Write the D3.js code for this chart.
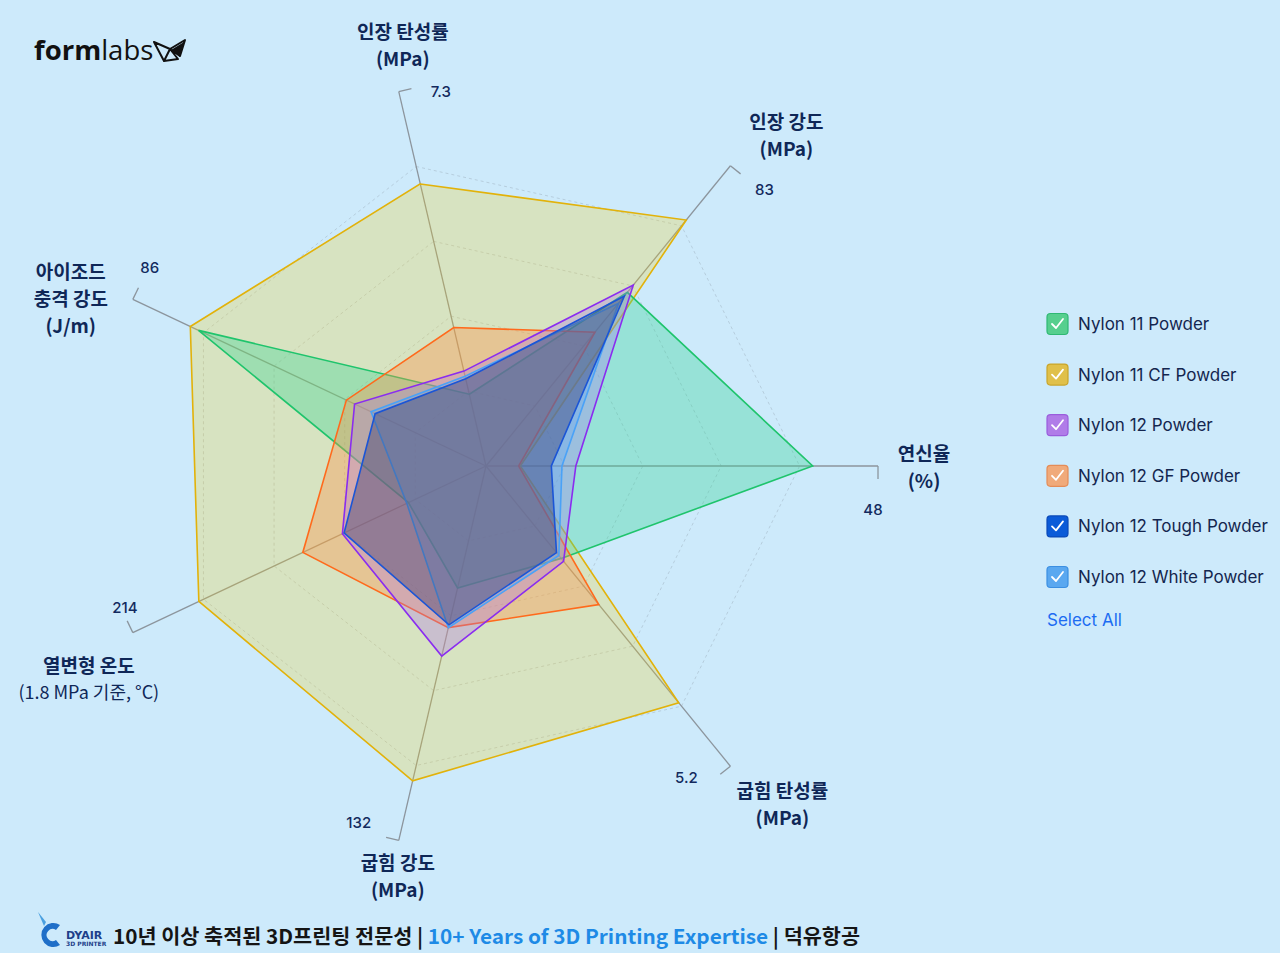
<!DOCTYPE html>
<html><head><meta charset="utf-8">
<script src="https://cdn.jsdelivr.net/npm/d3@7"></script>
<style>
html,body{margin:0;padding:0;background:#cdeafb;}
svg{display:block;}
</style></head><body>
<svg id="chart" width="1280" height="953"></svg>
<script>
// ---------- data ----------
const axisTitles = [
  ["인장 탄성률", "(MPa)"],
  ["인장 강도", "(MPa)"],
  ["연신율", "(%)"],
  ["굽힘 탄성률", "(MPa)"],
  ["굽힘 강도", "(MPa)"],
  ["열변형 온도", "(1.8 MPa 기준, °C)"],
  ["아이조드", "충격 강도", "(J/m)"]
];
const axisMax = [7.3, 83, 48, 5.2, 132, 214, 86];
const axisMaxLabels = ["7.3", "83", "48", "5.2", "132", "214", "86"];

const seriesNames = ["Nylon 11 Powder", "Nylon 11 CF Powder", "Nylon 12 Powder",
  "Nylon 12 GF Powder", "Nylon 12 Tough Powder", "Nylon 12 White Powder"];
const nylon11      = [1.4, 48, 40, 1.6, 43, 47, 70];
const nylon11CF    = [5.5, 68, 4.2, 4.1, 111, 174, 72];
const nylon12      = [1.85, 50, 11, 1.65, 67, 87, 32];
const nylon12GF    = [2.7, 37, 4, 2.4, 57, 111, 34];
const nylon12Tough = [1.7, 47, 8, 1.5, 56, 86, 27];
const nylon12White = [1.75, 45, 9.3, 1.55, 57, 48, 28];
const seriesValues = [nylon11, nylon11CF, nylon12, nylon12GF, nylon12Tough, nylon12White];

// ---------- styles ----------
const strokeColors = ["#1fc46c", "#e2b20a", "#8a2cf0", "#ff6a1c", "#1b55d6", "#4aa2f7"];
const fillColors   = ["rgba(52,211,150,0.35)", "rgba(248,208,20,0.25)", "rgba(170,110,240,0.30)",
                      "rgba(255,145,70,0.36)", "rgba(60,62,115,0.42)", "rgba(90,165,245,0.30)"];
const boxFill   = ["#56cf8e", "#e0c04a", "#b07ce8", "#f0aa7a", "#0b5bd8", "#5aa8f0"];
const boxStroke = ["#2fb873", "#c9a52a", "#9a5ddc", "#e48c57", "#0a49b8", "#3b8fe2"];
const drawOrder = [1, 0, 3, 2, 5, 4];
const tickLabelOffset = [[42, 0], [34, 24], [-5, 43], [-44, 11], [-40, -18], [-8, -25], [17, -32]];
const titleOffset = [[4, -48], [56, -32], [46, 0], [52, 37], [-1, 35], [-44, 45], [-62, -2]];

const svg = d3.select("#chart");
const W = 1280, H = 953;
svg.append("rect").attr("width", W).attr("height", H).attr("fill", "#cdeafb");

const cx = 486, cy = 466, rx = 392, ry = 384;
const n = axisMax.length;
const angle = i => (i - 2) * 2 * Math.PI / n + Math.PI / 2; // clockwise from up
const xS = d3.scaleLinear().domain([-1, 1]).range([cx - rx, cx + rx]);
const yS = d3.scaleLinear().domain([-1, 1]).range([cy + ry, cy - ry]);
const rScales = axisMax.map(m => d3.scaleLinear().domain([0, m]).range([0, 1]));
const pt = (i, t) => [xS(t * Math.sin(angle(i))), yS(t * Math.cos(angle(i)))];

const g = svg.append("g");

// grid rings
const ringLevels = [0.2, 0.4, 0.6, 0.8];
const lineClosed = d3.line().curve(d3.curveLinearClosed);
g.selectAll(".ring").data(ringLevels).join("path")
  .attr("d", t => lineClosed(d3.range(n).map(i => pt(i, t))))
  .attr("fill", "none").attr("stroke", "rgba(110,120,130,0.25)")
  .attr("stroke-width", 1).attr("stroke-dasharray", "3,3");

// axes
const axisColor = "#8c959d";
d3.range(n).forEach(i => {
  const [x1, y1] = pt(i, 0), [x2, y2] = pt(i, 1);
  g.append("line").attr("x1", x1).attr("y1", y1).attr("x2", x2).attr("y2", y2)
    .attr("stroke", axisColor).attr("stroke-width", 1.3);
  const a = angle(i);
  const px = Math.cos(a), py = Math.sin(a); // clockwise perpendicular
  g.append("line").attr("x1", x2).attr("y1", y2).attr("x2", x2 + px * 13).attr("y2", y2 + py * 13)
    .attr("stroke", axisColor).attr("stroke-width", 1.3);
  g.append("text").attr("x", x2 + tickLabelOffset[i][0]).attr("y", y2 + tickLabelOffset[i][1])
    .attr("text-anchor", "middle").attr("dominant-baseline", "central")
    .attr("font-family", "Inter, 'Noto Sans', sans-serif").attr("font-size", 15)
    .attr("font-weight", 500).attr("fill", "#132a5e").text(axisMaxLabels[i]);
});

// series polygons
const polys = svg.append("g");
drawOrder.forEach(s => {
  const vals = seriesValues[s];
  const pts = vals.map((v, i) => pt(i, rScales[i](v)));
  polys.append("path").attr("d", lineClosed(pts))
    .attr("fill", fillColors[s]).attr("stroke", strokeColors[s])
    .attr("stroke-width", 1.6).attr("stroke-linejoin", "miter");
});

// axis titles
d3.range(n).forEach(i => {
  const [ex, ey] = pt(i, 1);
  const lines = axisTitles[i];
  const lh = 27;
  const x0 = ex + titleOffset[i][0];
  const y0 = ey + titleOffset[i][1] - (lines.length - 1) * lh / 2;
  lines.forEach((ln, k) => {
    const isSub = (i === 5 && k === 1);
    svg.append("text").attr("x", x0).attr("y", y0 + k * lh)
      .attr("text-anchor", "middle").attr("dominant-baseline", "central")
      .attr("font-family", "'Noto Sans CJK KR', 'Noto Sans', sans-serif")
      .attr("fill", "#0f2757")
      .attr("font-size", isSub ? 18 : 19).attr("font-weight", isSub ? 400 : 700).text(ln);
  });
});

// legend
const lg = svg.append("g");
seriesNames.forEach((name, s) => {
  const yc = 324 + s * 50.6;
  lg.append("rect").attr("x", 1047).attr("y", yc - 10.5).attr("width", 21).attr("height", 21)
    .attr("rx", 3.5).attr("fill", boxFill[s]).attr("stroke", boxStroke[s]).attr("stroke-width", 1.2);
  lg.append("path").attr("d", `M${1052},${yc} L${1056},${yc + 4} L${1063},${yc - 5}`)
    .attr("fill", "none").attr("stroke", "#fff").attr("stroke-width", 1.8)
    .attr("stroke-linecap", "round").attr("stroke-linejoin", "round");
  lg.append("text").attr("x", 1078).attr("y", yc).attr("dominant-baseline", "central")
    .attr("font-family", "Inter, 'Noto Sans', sans-serif").attr("font-size", 17)
    .attr("fill", "#14264f").text(name);
});
lg.append("text").attr("x", 1047).attr("y", 620).attr("dominant-baseline", "central")
  .attr("font-family", "Inter, 'Noto Sans', sans-serif").attr("font-size", 17)
  .attr("fill", "#1c6cf2").text("Select All");

// formlabs logo
const logo = svg.append("text").attr("x", 34).attr("y", 60)
  .attr("font-family", "'Open Sans', 'Noto Sans', sans-serif").attr("font-size", 27.5).attr("fill", "#111");
logo.append("tspan").attr("font-weight", 700).text("form");
logo.append("tspan").attr("font-weight", 400).text("labs");
svg.append("path")
  .attr("d", "M154,42 L170,49 L164,61 Z M170,49 L185,40 L180,56 Z M164,61 L170,49 L178,59 Z")
  .attr("fill", "none").attr("stroke", "#111").attr("stroke-width", 2).attr("stroke-linejoin", "round");
svg.append("path").attr("d", "M171,50 L180,57 L184,42 Z").attr("fill", "#111");

// bottom caption
const dy = svg.append("g");
dy.append("path").attr("d", "M60,925 A12,12 0 1 0 60,945 L56,940 A6,6 0 1 1 56,930 Z").attr("fill", "#1f6fc8");
dy.append("path").attr("d", "M38,912 L46,922 L44,926 Z").attr("fill", "#4aa0e0");
dy.append("text").attr("x", 66).attr("y", 939).attr("font-family", "'DejaVu Sans', sans-serif")
  .attr("font-size", 11).attr("font-weight", 700).attr("fill", "#1d3f8a").text("DYAIR");
dy.append("text").attr("x", 66).attr("y", 946).attr("font-family", "'DejaVu Sans', sans-serif")
  .attr("font-size", 6).attr("font-weight", 700).attr("fill", "#1d3f8a").text("3D PRINTER");
const cap = svg.append("text").attr("x", 113).attr("y", 944)
  .attr("font-family", "'Noto Sans CJK KR', sans-serif").attr("font-size", 20).attr("font-weight", 700)
  .attr("textLength", 747).attr("lengthAdjust", "spacingAndGlyphs").attr("fill", "#151515");
cap.append("tspan").text("10년 이상 축적된 3D프린팅 전문성 | ");
cap.append("tspan").attr("fill", "#1e8ae6").text("10+ Years of 3D Printing Expertise");
cap.append("tspan").text(" | 덕유항공");
</script>
</body></html>
